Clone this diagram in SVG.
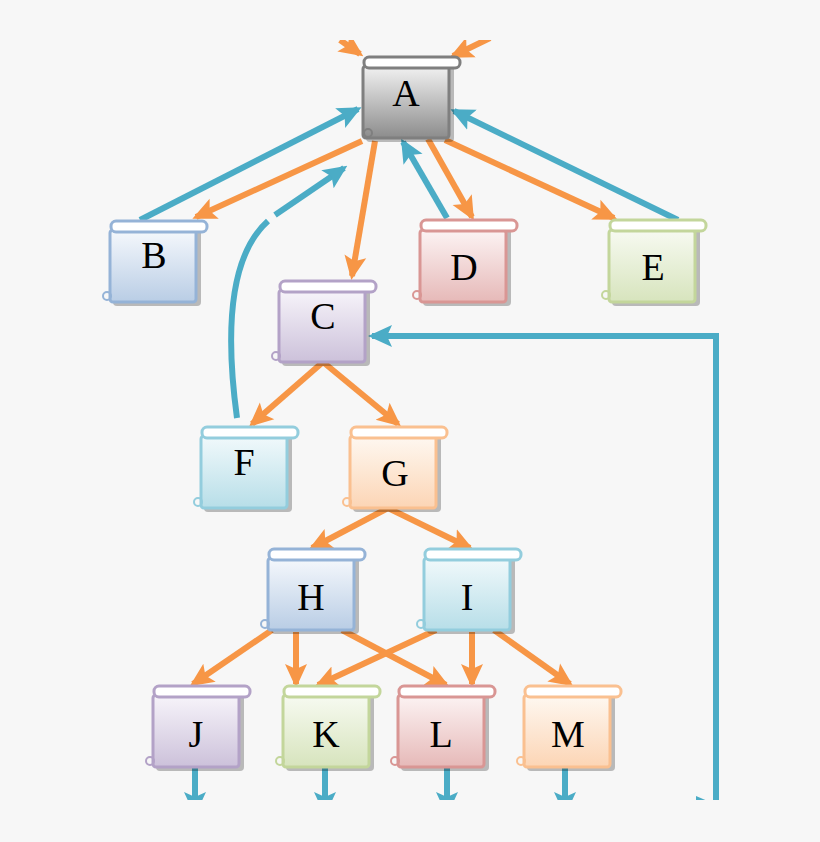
<svg xmlns="http://www.w3.org/2000/svg" width="820" height="842" viewBox="0 0 820 842">
<defs>
<style>
.o{stroke:#f79646;stroke-width:6;fill:none;marker-end:url(#mo)}
.b{stroke:#4bacc6;stroke-width:6;fill:none;marker-end:url(#mb)}
.t{font-family:"Liberation Serif",serif;font-size:38px;text-anchor:middle;fill:#000}
.sh{fill:#000;opacity:.25}
</style>
<marker id="mo" markerUnits="userSpaceOnUse" markerWidth="24" markerHeight="24" viewBox="0 0 24 24" refX="20" refY="12" orient="auto"><path d="M0,1 L24,12 L0,23 L5,12 Z" fill="#f79646"/></marker>
<marker id="mb" markerUnits="userSpaceOnUse" markerWidth="24" markerHeight="24" viewBox="0 0 24 24" refX="20" refY="12" orient="auto"><path d="M0,1 L24,12 L0,23 L5,12 Z" fill="#4bacc6"/></marker>
<linearGradient id="gA" x1="0" y1="0" x2="0" y2="1"><stop offset="0" stop-color="#f2f2f2"/><stop offset="1" stop-color="#8c8c8c"/></linearGradient>
<linearGradient id="gB" x1="0" y1="0" x2="0" y2="1"><stop offset="0" stop-color="#f5f8fc"/><stop offset="1" stop-color="#b9cde5"/></linearGradient>
<linearGradient id="gC" x1="0" y1="0" x2="0" y2="1"><stop offset="0" stop-color="#f7f4fa"/><stop offset="1" stop-color="#ccc1da"/></linearGradient>
<linearGradient id="gD" x1="0" y1="0" x2="0" y2="1"><stop offset="0" stop-color="#fcf3f3"/><stop offset="1" stop-color="#e6b9b8"/></linearGradient>
<linearGradient id="gE" x1="0" y1="0" x2="0" y2="1"><stop offset="0" stop-color="#f7faf1"/><stop offset="1" stop-color="#d7e4bd"/></linearGradient>
<linearGradient id="gF" x1="0" y1="0" x2="0" y2="1"><stop offset="0" stop-color="#f1f9fb"/><stop offset="1" stop-color="#b7dee8"/></linearGradient>
<linearGradient id="gG" x1="0" y1="0" x2="0" y2="1"><stop offset="0" stop-color="#fef8f1"/><stop offset="1" stop-color="#fcd5b5"/></linearGradient>
<clipPath id="cp"><rect x="0" y="40" width="820" height="760"/></clipPath>
</defs>
<rect width="820" height="842" fill="#f7f7f7"/>
<g clip-path="url(#cp)">
<g id="connectors">
<path class="o" d="M340,40 L360,54"/>
<path class="o" d="M490,38 L453,56"/>
<path class="b" d="M140,220 L358,109"/>
<path class="o" d="M362,141 L196,217"/>
<path class="o" d="M375,141 L352,276"/>
<path class="b" d="M447,218 L403,142"/>
<path class="o" d="M428,139 L472,217"/>
<path class="o" d="M445,140 L614,218"/>
<path class="b" d="M678,220 L454,111"/>
<path d="M237,418 C225,330 230,255 268,221" stroke="#4bacc6" stroke-width="6" fill="none"/>
<path class="b" d="M275,215 L344,168"/>
<path class="o" d="M323,362 L252,424"/>
<path class="o" d="M323,362 L398,424"/>
<path class="o" d="M388,508 L312,548"/>
<path class="o" d="M388,508 L470,548"/>
<path class="o" d="M272,630 L193,684"/>
<path class="o" d="M296,632 L296,684"/>
<path class="o" d="M342,630 L446,685"/>
<path class="o" d="M436,630 L318,685"/>
<path class="o" d="M472,632 L472,684"/>
<path class="o" d="M494,630 L570,684"/>
<path class="b" d="M716,805 L716,336 L372,336"/>
<path class="b" d="M195,768 L195,812"/>
<path class="b" d="M325,768 L325,812"/>
<path class="b" d="M447,768 L447,812"/>
<path class="b" d="M565,768 L565,812"/>
<path d="M696,796 L710,802 L696,806 Z" fill="#4bacc6"/>
</g>
</g>
<g id="nA"><rect class="sh" x="366" y="64" width="88" height="78" rx="4"/><rect x="363" y="66" width="86" height="72" rx="3" fill="url(#gA)" stroke="#7f7f7f" stroke-width="3"/><rect x="364" y="57" width="96" height="11" rx="5" fill="#fff" stroke="#7f7f7f" stroke-width="3"/><circle cx="368" cy="133" r="4" fill="none" stroke="#7f7f7f" stroke-width="2"/><text class="t" x="406" y="106">A</text></g>
<g id="nB"><rect class="sh" x="113" y="228" width="88" height="78" rx="4"/><rect x="110" y="230" width="86" height="72" rx="3" fill="url(#gB)" stroke="#95b3d7" stroke-width="3"/><rect x="111" y="221" width="96" height="11" rx="5" fill="#fff" stroke="#95b3d7" stroke-width="3"/><circle cx="107" cy="296" r="4" fill="none" stroke="#95b3d7" stroke-width="2"/><text class="t" x="154" y="268">B</text></g>
<g id="nC"><rect class="sh" x="282" y="288" width="88" height="78" rx="4"/><rect x="279" y="290" width="86" height="72" rx="3" fill="url(#gC)" stroke="#b3a2c7" stroke-width="3"/><rect x="280" y="281" width="96" height="11" rx="5" fill="#fff" stroke="#b3a2c7" stroke-width="3"/><circle cx="276" cy="356" r="4" fill="none" stroke="#b3a2c7" stroke-width="2"/><text class="t" x="323" y="329">C</text></g>
<g id="nD"><rect class="sh" x="423" y="228" width="88" height="78" rx="4"/><rect x="420" y="230" width="86" height="72" rx="3" fill="url(#gD)" stroke="#d99694" stroke-width="3"/><rect x="421" y="220" width="96" height="11" rx="5" fill="#fff" stroke="#d99694" stroke-width="3"/><circle cx="417" cy="295" r="4" fill="none" stroke="#d99694" stroke-width="2"/><text class="t" x="464" y="280">D</text></g>
<g id="nE"><rect class="sh" x="612" y="228" width="88" height="78" rx="4"/><rect x="609" y="230" width="86" height="72" rx="3" fill="url(#gE)" stroke="#c3d69b" stroke-width="3"/><rect x="610" y="220" width="96" height="11" rx="5" fill="#fff" stroke="#c3d69b" stroke-width="3"/><circle cx="606" cy="295" r="4" fill="none" stroke="#c3d69b" stroke-width="2"/><text class="t" x="653" y="280">E</text></g>
<g id="nF"><rect class="sh" x="204" y="434" width="88" height="78" rx="4"/><rect x="201" y="436" width="86" height="72" rx="3" fill="url(#gF)" stroke="#93cddd" stroke-width="3"/><rect x="202" y="427" width="96" height="11" rx="5" fill="#fff" stroke="#93cddd" stroke-width="3"/><circle cx="198" cy="502" r="4" fill="none" stroke="#93cddd" stroke-width="2"/><text class="t" x="244" y="475">F</text></g>
<g id="nG"><rect class="sh" x="353" y="434" width="88" height="78" rx="4"/><rect x="350" y="436" width="86" height="72" rx="3" fill="url(#gG)" stroke="#fac090" stroke-width="3"/><rect x="351" y="427" width="96" height="11" rx="5" fill="#fff" stroke="#fac090" stroke-width="3"/><circle cx="347" cy="502" r="4" fill="none" stroke="#fac090" stroke-width="2"/><text class="t" x="395" y="486">G</text></g>
<g id="nH"><rect class="sh" x="271" y="556" width="88" height="78" rx="4"/><rect x="268" y="558" width="86" height="72" rx="3" fill="url(#gB)" stroke="#95b3d7" stroke-width="3"/><rect x="269" y="549" width="96" height="11" rx="5" fill="#fff" stroke="#95b3d7" stroke-width="3"/><circle cx="265" cy="624" r="4" fill="none" stroke="#95b3d7" stroke-width="2"/><text class="t" x="311" y="610">H</text></g>
<g id="nI"><rect class="sh" x="427" y="556" width="88" height="78" rx="4"/><rect x="424" y="558" width="86" height="72" rx="3" fill="url(#gF)" stroke="#93cddd" stroke-width="3"/><rect x="425" y="549" width="96" height="11" rx="5" fill="#fff" stroke="#93cddd" stroke-width="3"/><circle cx="421" cy="624" r="4" fill="none" stroke="#93cddd" stroke-width="2"/><text class="t" x="467" y="610">I</text></g>
<g id="nJ"><rect class="sh" x="156" y="693" width="88" height="78" rx="4"/><rect x="153" y="695" width="86" height="72" rx="3" fill="url(#gC)" stroke="#b3a2c7" stroke-width="3"/><rect x="154" y="686" width="96" height="11" rx="5" fill="#fff" stroke="#b3a2c7" stroke-width="3"/><circle cx="150" cy="761" r="4" fill="none" stroke="#b3a2c7" stroke-width="2"/><text class="t" x="196" y="747">J</text></g>
<g id="nK"><rect class="sh" x="286" y="693" width="88" height="78" rx="4"/><rect x="283" y="695" width="86" height="72" rx="3" fill="url(#gE)" stroke="#c3d69b" stroke-width="3"/><rect x="284" y="686" width="96" height="11" rx="5" fill="#fff" stroke="#c3d69b" stroke-width="3"/><circle cx="280" cy="761" r="4" fill="none" stroke="#c3d69b" stroke-width="2"/><text class="t" x="326" y="747">K</text></g>
<g id="nL"><rect class="sh" x="401" y="693" width="88" height="78" rx="4"/><rect x="398" y="695" width="86" height="72" rx="3" fill="url(#gD)" stroke="#d99694" stroke-width="3"/><rect x="399" y="686" width="96" height="11" rx="5" fill="#fff" stroke="#d99694" stroke-width="3"/><circle cx="395" cy="761" r="4" fill="none" stroke="#d99694" stroke-width="2"/><text class="t" x="441" y="747">L</text></g>
<g id="nM"><rect class="sh" x="527" y="693" width="88" height="78" rx="4"/><rect x="524" y="695" width="86" height="72" rx="3" fill="url(#gG)" stroke="#fac090" stroke-width="3"/><rect x="525" y="686" width="96" height="11" rx="5" fill="#fff" stroke="#fac090" stroke-width="3"/><circle cx="521" cy="761" r="4" fill="none" stroke="#fac090" stroke-width="2"/><text class="t" x="568" y="747">M</text></g>
</svg>
